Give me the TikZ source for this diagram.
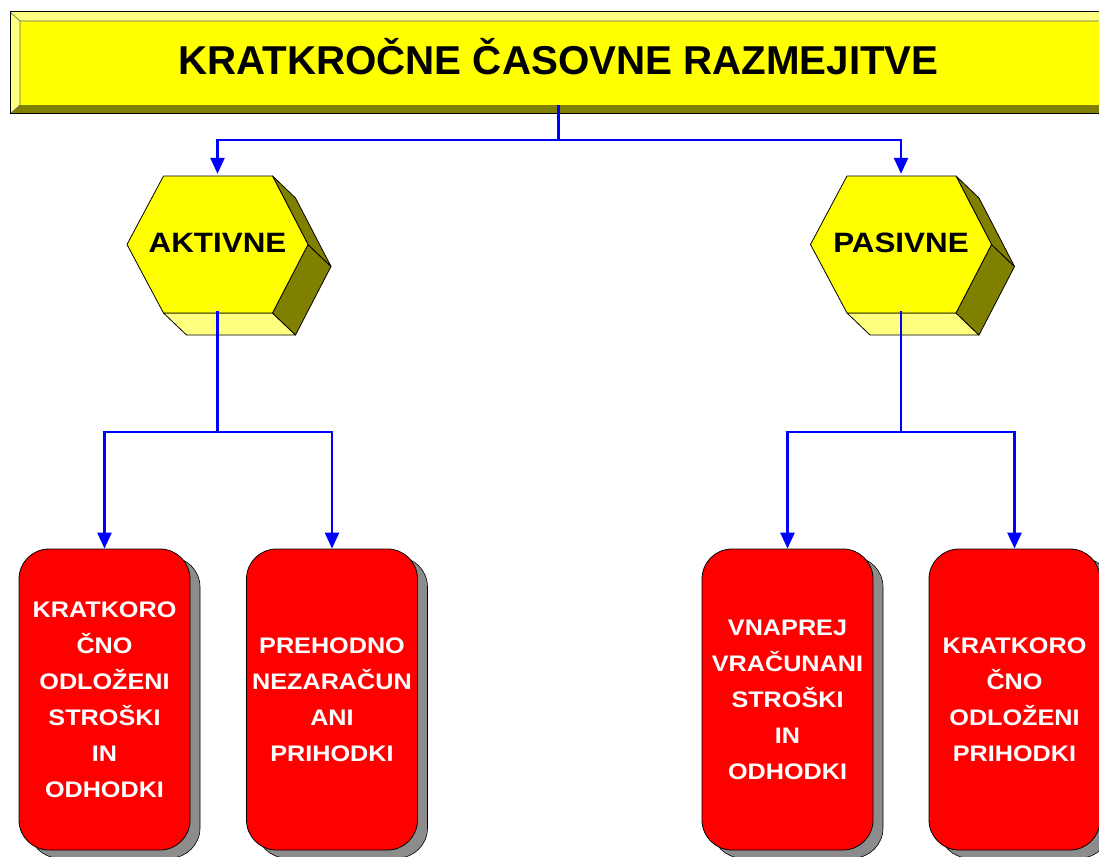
\documentclass[tikz,border=0pt]{standalone}
\usepackage{fontspec}
\setmainfont{Liberation Sans}
\newfontfamily\labelfont[FakeStretch=1.12]{Liberation Sans}
\usetikzlibrary{arrows.meta,shadows}

\definecolor{barYellow}{HTML}{FFFF00}
\definecolor{lightYellow}{HTML}{FFFF80}
\definecolor{oliveShade}{HTML}{808000}
\definecolor{boxRed}{HTML}{FF0000}
\definecolor{linkBlue}{HTML}{0000FF}
\definecolor{shadowGray}{HTML}{8C8C8C}

\tikzset{
  edge/.style={draw=black, line width=0.8pt, line join=round},
  hexprism/.pic={
    % bottom face
    \filldraw[edge, fill=lightYellow] (-54,68.5) -- (55,68.5) -- (78,90.5) -- (-31,90.5) -- cycle;
    % lower right face
    \filldraw[edge, fill=oliveShade] (90.5,0) -- (55,68.5) -- (78,90.5) -- (113.5,22) -- cycle;
    % upper right face
    \filldraw[edge, fill=oliveShade] (55,-68.5) -- (90.5,0) -- (113.5,22) -- (78,-46.5) -- cycle;
    % front face
    \filldraw[edge, fill=barYellow] (-90.5,0) -- (-54,-68.5) -- (55,-68.5) -- (90.5,0) -- (55,68.5) -- (-54,68.5) -- cycle;
  },
  hexlabel/.style={minimum width=181pt, minimum height=137pt, inner sep=0pt,
    font=\labelfont\bfseries\fontsize{28}{30}\selectfont},
  redbox/.style={draw=black, line width=0.8pt, fill=boxRed, rounded corners=30pt,
    minimum width=171pt, minimum height=301pt, inner sep=0pt, align=center,
    text=white, font=\labelfont\bfseries\fontsize{22.5}{36}\selectfont,
    general shadow={fill=shadowGray, draw=black, line width=0.6pt,
      shadow xshift=10pt, shadow yshift=-8pt}},
  link/.style={draw=linkBlue, line width=2.5pt, -{Triangle[width=14pt,length=16pt]}},
  plainlink/.style={draw=linkBlue, line width=2.5pt},
}

\begin{document}
\begin{tikzpicture}[x=1pt,y=-1pt]
\useasboundingbox (0,0) rectangle (1099,856);
\clip (0,0) rectangle (1099,856);

% bevelled title bar
\fill[lightYellow] (10,12) rectangle (1110,114);
\fill[oliveShade] (10,114) -- (20,105) -- (1110,105) -- (1110,114) -- cycle;
\fill[barYellow] (20,21) rectangle (1110,105);
\draw[black!60, line width=0.6pt] (10,12) -- (20,21) -- (1110,21) (20,21) -- (20,105) -- (10,114);
\draw[black, line width=1pt] (10,12) rectangle (1110,114);
\node (title) at (558.5,57) {\fontsize{40.3}{42}\selectfont\bfseries KRATKROČNE ČASOVNE RAZMEJITVE};
\coordinate (tb) at (558.5,105);
\coordinate (split) at (558.5,140);

% hexagonal prisms
\pic at (217.5,244.5) {hexprism};
\node[hexlabel] (aktivne) at (217.5,242.5) {AKTIVNE};
\pic at (901,244.5) {hexprism};
\node[hexlabel] (pasivne) at (901,242.5) {PASIVNE};

% red boxes
\node[redbox] (b1) at (104.5,699.5) {KRATKORO\\ČNO\\ODLOŽENI\\STROŠKI\\IN\\ODHODKI};
\node[redbox] (b2) at (332,699.5) {PREHODNO\\NEZARAČUN\\ANI\\PRIHODKI};
\node[redbox] (b3) at (787.5,699.5) {VNAPREJ\\VRAČUNANI\\STROŠKI\\IN\\ODHODKI};
\node[redbox] (b4) at (1014.5,699.5) {KRATKORO\\ČNO\\ODLOŽENI\\PRIHODKI};

% connectors
\draw[link] (tb) -- (split) -| (aktivne.north);
\draw[link] (split) -| (pasivne.north);

\coordinate (ja) at (217.5,432);
\coordinate (jp) at (901,432);
\draw[plainlink] (aktivne.south) -- (ja);
\draw[link] (ja) -| (b1.north);
\draw[link] (ja) -| (b2.north);
\draw[plainlink] (pasivne.south) -- (jp);
\draw[link] (jp) -| (b3.north);
\draw[link] (jp) -| (b4.north);
\end{tikzpicture}
\end{document}
